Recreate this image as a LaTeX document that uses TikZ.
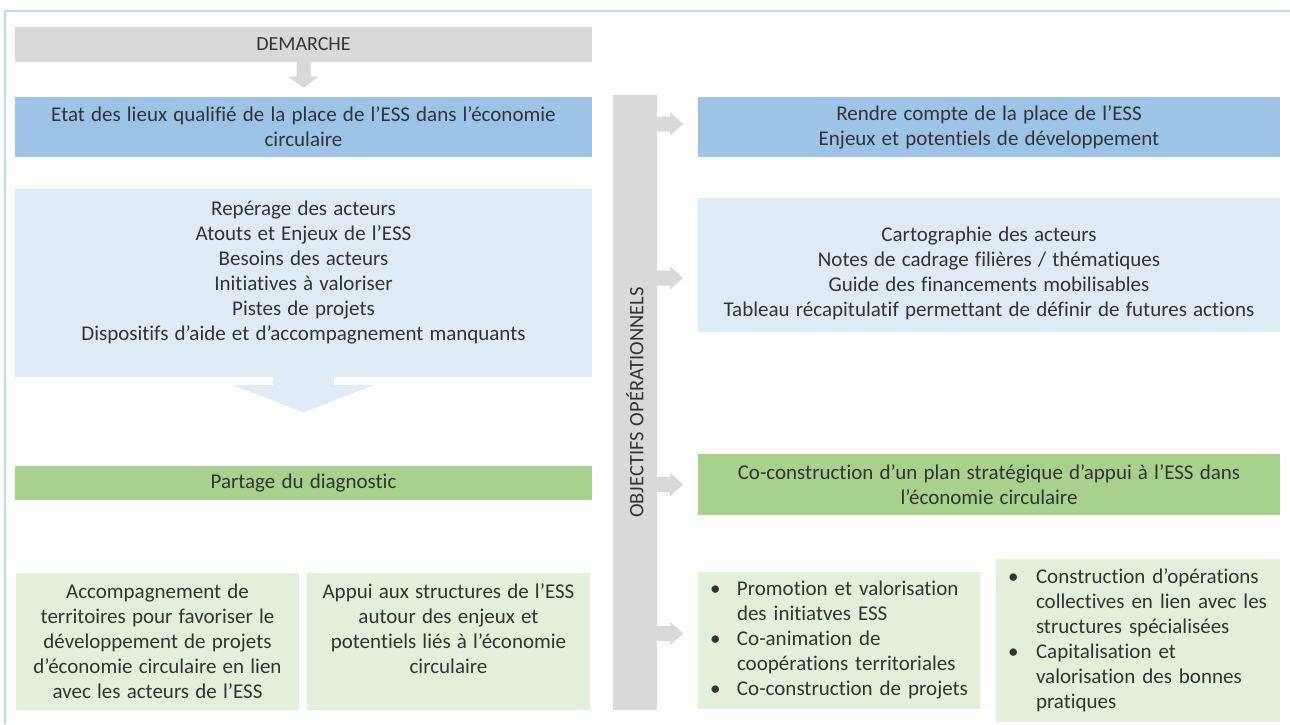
\documentclass[tikz,border=0pt]{standalone}
\usepackage{fontspec}
\setmainfont{Carlito}[Ligatures=NoCommon, WordSpace=1.3]
\usetikzlibrary{calc}
\definecolor{gbar}{HTML}{D9D9D9}
\definecolor{dblue}{HTML}{9DC3E6}
\definecolor{lblue}{HTML}{DEEBF7}
\definecolor{dgreen}{HTML}{A9D18E}
\definecolor{lgreen}{HTML}{E2F0D9}
\definecolor{framec}{HTML}{BDD7EE}
\definecolor{txt}{HTML}{333333}
\begin{document}
\begin{tikzpicture}[x=1pt,y=-1pt,
  box/.style={rectangle, inner sep=0pt, text=txt, align=center,
    font=\fontsize{21}{25}\selectfont},
  listbox/.style={box, align=left, inner xsep=12pt},
  rarrow/.style={fill=gbar}]
\useasboundingbox (0,0) rectangle (1290,724);
\draw[framec, line width=2pt] (5,724) -- (5,11) -- (1290,11);

% left column
\node[box, fill=gbar, minimum width=577, minimum height=35, font=\fontsize{20}{24}\selectfont] (dem) at (303.5,44) {DEMARCHE};
\node[box, fill=dblue, minimum width=577, minimum height=60] (etat) at (303.5,127)
  {Etat des lieux qualifié de la place de l’ESS dans l’économie\\circulaire};
\node[box, fill=lblue, minimum width=577, minimum height=188] (rep) at (303.5,283)
  {Repérage des acteurs\\Atouts et Enjeux de l’ESS\\Besoins des acteurs\\Initiatives à valoriser\\Pistes de projets\\Dispositifs d’aide et d’accompagnement manquants\\\mbox{}};
\node[box, fill=dgreen, minimum width=577, minimum height=34] (part) at (303.5,483) {Partage du diagnostic};
\node[box, fill=lgreen, minimum width=283, minimum height=137] (acc) at (157.5,641.5)
  {Accompagnement de\\territoires pour favoriser le\\développement de projets\\d’économie circulaire en lien\\avec les acteurs de l’ESS};
\node[box, fill=lgreen, minimum width=283, minimum height=137] (app) at (448.5,641.5)
  {Appui aux structures de l’ESS\\autour des enjeux et\\potentiels liés à l’économie\\circulaire\\\mbox{}};

% arrows left
\fill[gbar] ($(dem.south)+(-7,0)$) -- ($(dem.south)+(-7,15)$) -- ($(dem.south)+(-15,15)$)
  -- ($(dem.south)+(0,26)$) -- ($(dem.south)+(15,15)$) -- ($(dem.south)+(7,15)$) -- ($(dem.south)+(7,0)$) -- cycle;
\fill[lblue] ($(rep.south)+(-30.5,0)$) -- ($(rep.south)+(-30.5,8)$) -- ($(rep.south)+(-70.5,8)$)
  -- ($(rep.south)+(0,35)$) -- ($(rep.south)+(70.5,8)$) -- ($(rep.south)+(30.5,8)$) -- ($(rep.south)+(30.5,0)$) -- cycle;

% central bar
\node[box, fill=gbar, minimum width=44, minimum height=615, font=\fontsize{20.5}{24}\selectfont] (bar) at (635,402.5)
  {\rotatebox{90}{OBJECTIFS OPÉRATIONNELS}};

% right column
\node[box, fill=dblue, minimum width=582, minimum height=60] (rendre) at (989,127)
  {Rendre compte de la place de l’ESS\\Enjeux et potentiels de développement};
\node[box, fill=lblue, minimum width=582, minimum height=134] (carto) at (989,265)
  {\mbox{}\\[5.5pt]Cartographie des acteurs\\Notes de cadrage filières / thématiques\\Guide des financements mobilisables\\Tableau récapitulatif permettant de définir de futures actions};
\node[box, fill=dgreen, minimum width=582, minimum height=61] (copl) at (989,484.5)
  {Co-construction d’un plan stratégique d’appui à l’ESS dans\\l’économie circulaire};
\node[listbox, fill=lgreen, text width=258pt, minimum height=137] (promo) at (839,640.5)
  {\begin{tabular}{@{}p{27pt}@{}l@{}}
   \textbullet & Promotion et valorisation\\
               & des initiatves ESS\\
   \textbullet & Co-animation de\\
               & coopérations territoriales\\
   \textbullet & Co-construction de projets
   \end{tabular}};
\node[listbox, fill=lgreen, text width=260pt, minimum height=163] (constr) at (1138,640.5)
  {\begin{tabular}{@{}p{28pt}@{}l@{}}
   \textbullet & Construction d’opérations\\
               & collectives en lien avec les\\
               & structures spécialisées\\
   \textbullet & Capitalisation et\\
               & valorisation des bonnes\\
               & pratiques
   \end{tabular}};

% side arrows
\foreach \t/\dy in {rendre/-3, carto/13, copl/0, promo/-7}{
  \fill[rarrow] ($(bar.east |- \t.west)+(0,\dy-7.5)$) -- ++(13,0) -- ++(0,-4) -- ++(13,11.5)
    -- ++(-13,11.5) -- ++(0,-4) -- ++(-13,0) -- cycle;
}
\end{tikzpicture}
\end{document}
